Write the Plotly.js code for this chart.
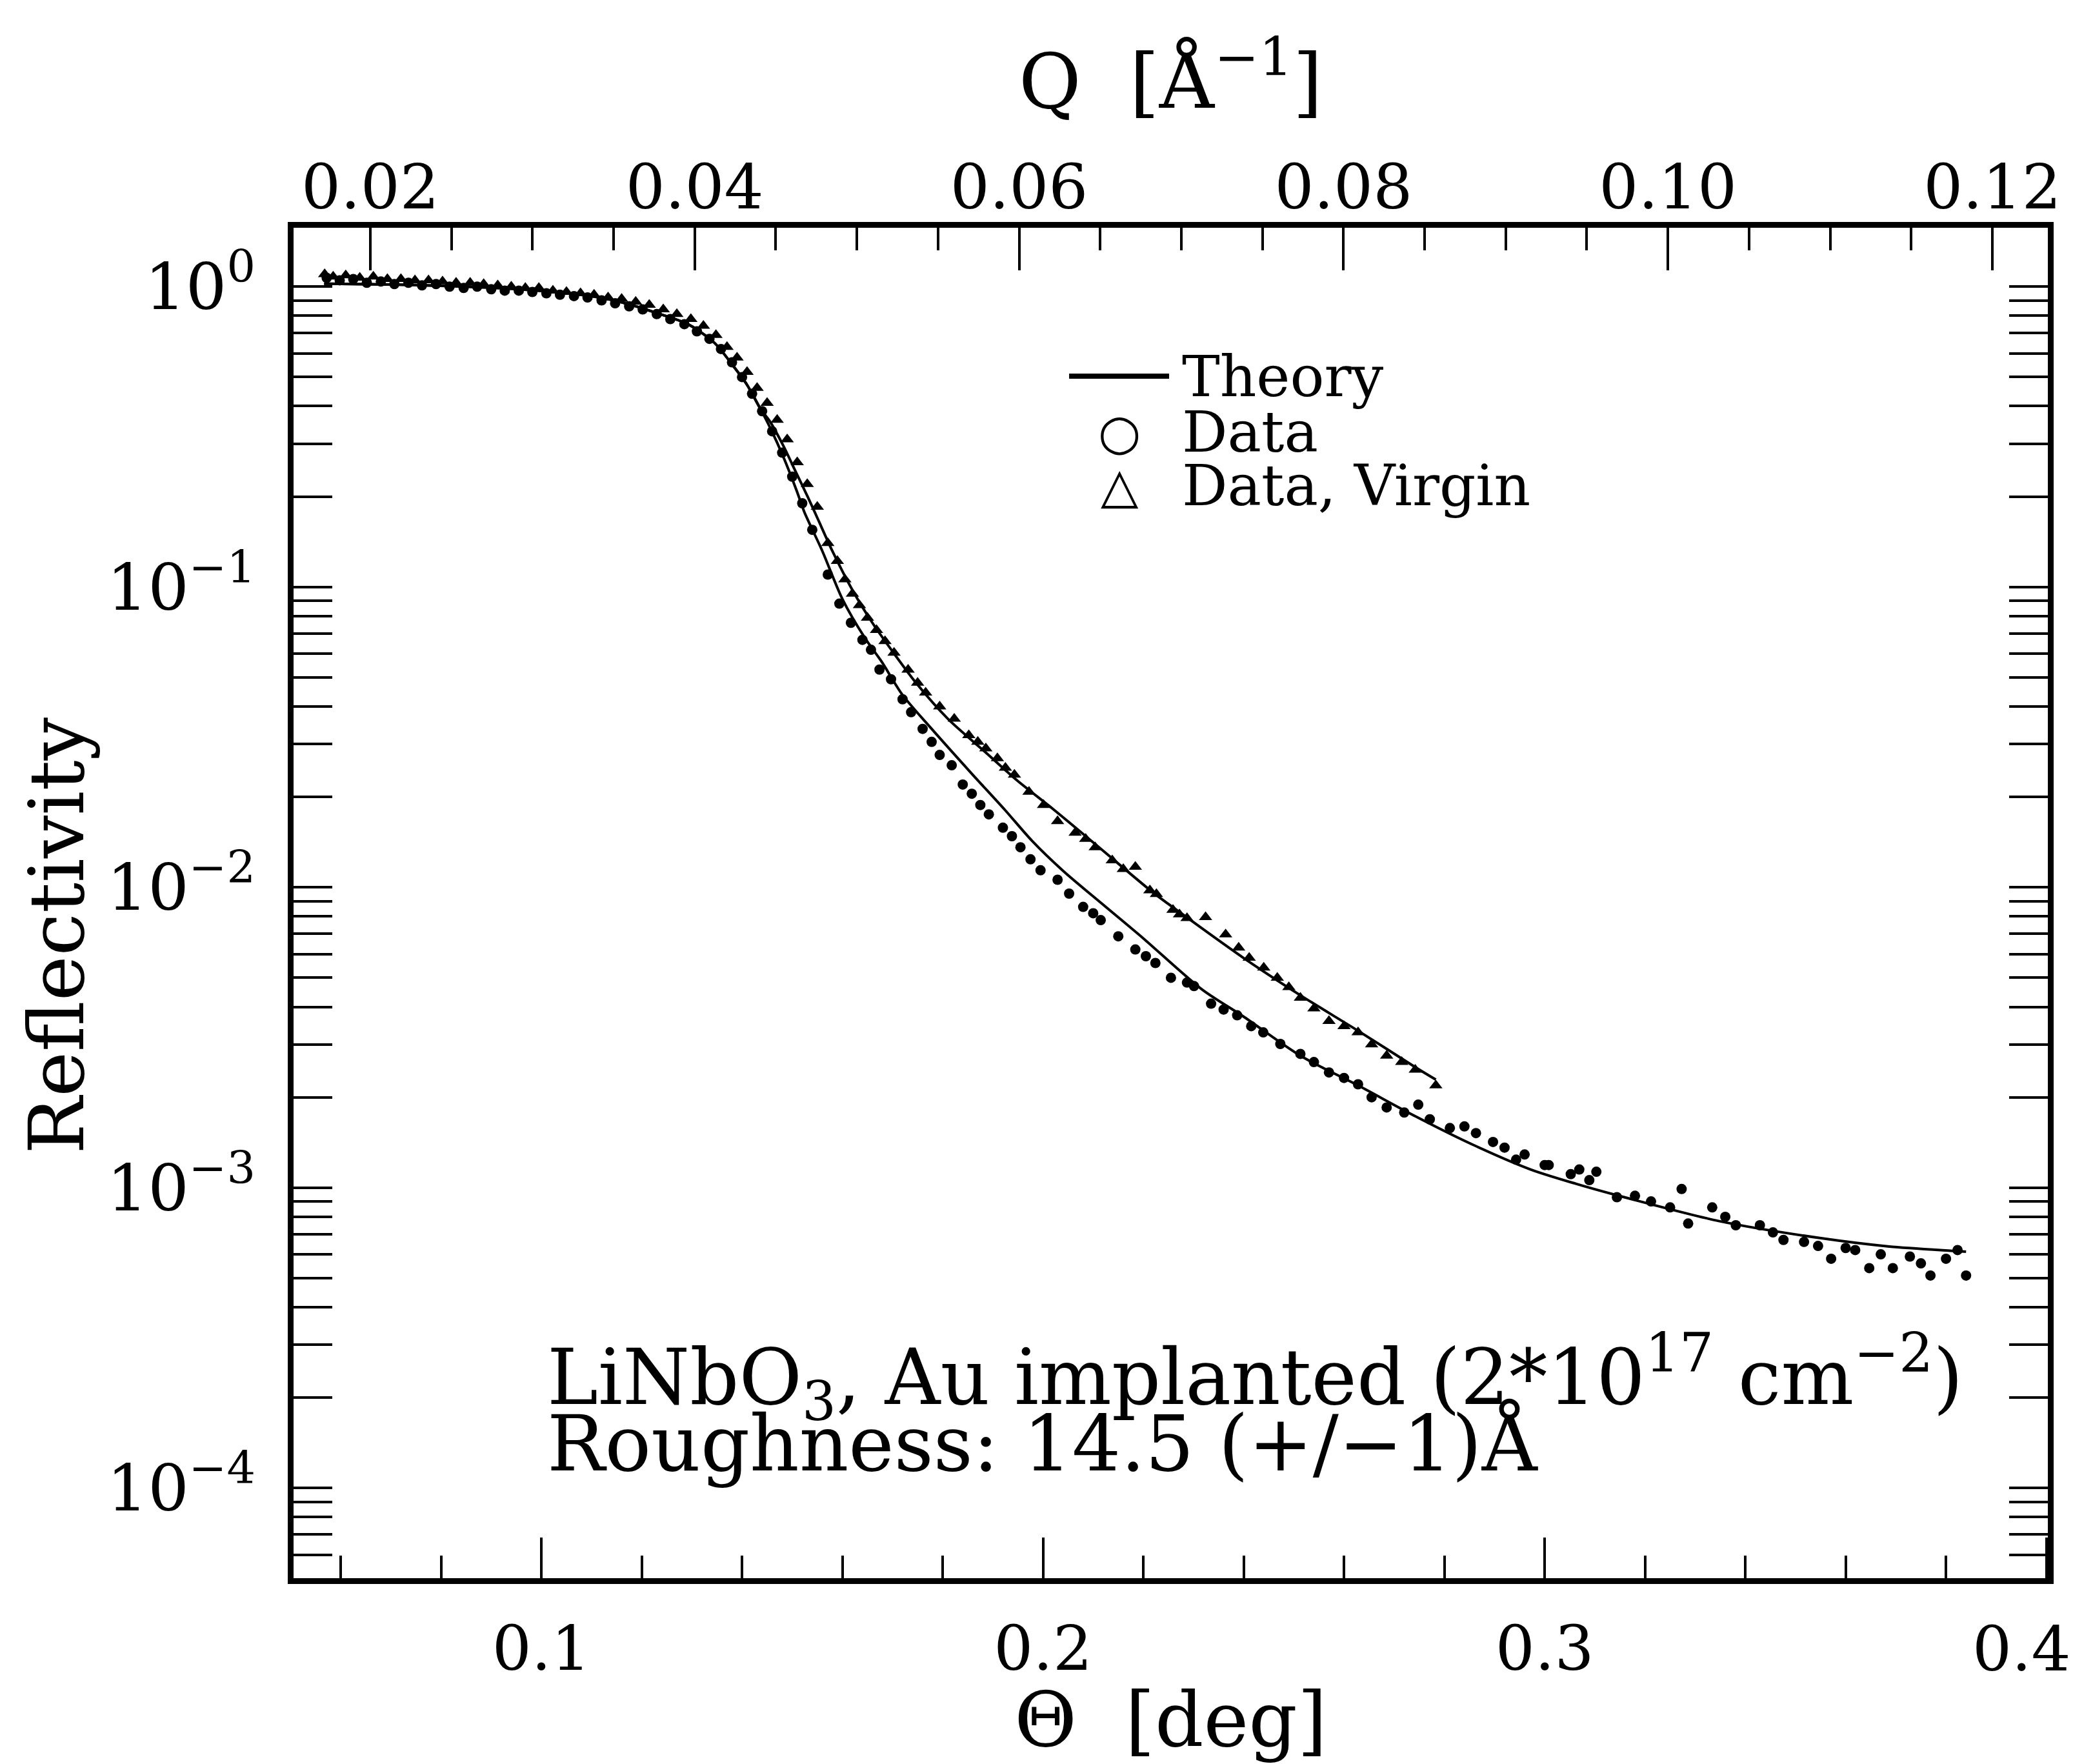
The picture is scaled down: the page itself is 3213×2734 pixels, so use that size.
<!DOCTYPE html>
<html>
<head>
<meta charset="utf-8">
<script src="https://cdn.plot.ly/plotly-3.0.1.min.js"></script>
<style>html,body{margin:0;padding:0;background:#fff;}#chart{width:3213px;height:2734px;}</style>
</head>
<body>
<div id="chart"></div>
<script>
// ---------- data ----------
// Theory curve for the implanted sample
const thetaTheoryImpl = [0.0567,0.065,0.075,0.085,0.095,0.105,0.110,0.116,0.1227,0.1292,0.1345,0.1384,0.1410,0.1437,0.1456,0.1482,0.1509,0.1524,0.1560,0.1600,0.1645,0.1678,0.1720,0.1776,0.1857,0.1924,0.1978,0.2040,0.2120,0.2200,0.2317,0.2399,0.2513,0.2628,0.2742,0.2857,0.2972,0.3063,0.3144,0.3348,0.3551,0.3687,0.3823,0.3840];
const rTheoryImpl = [1.023,1.019,1.012,1.000,0.982,0.951,0.929,0.887,0.820,0.750,0.650,0.540,0.471,0.391,0.339,0.272,0.209,0.178,0.1318,0.0912,0.0676,0.0565,0.0437,0.0340,0.0240,0.01811,0.01429,0.01135,0.00875,0.00676,0.00457,0.00372,0.00275,0.00219,0.00173,0.00139,0.00115,0.00103,0.000944,0.000774,0.000679,0.000637,0.000615,0.000612];

// Theory curve for the virgin sample
const thetaTheoryVirgin = [0.0567,0.065,0.075,0.085,0.095,0.105,0.110,0.116,0.1227,0.1292,0.1345,0.1384,0.1410,0.1437,0.1456,0.1482,0.1509,0.1531,0.1550,0.1580,0.1620,0.1660,0.1700,0.1747,0.1811,0.1885,0.1949,0.2022,0.2104,0.2219,0.2270,0.2399,0.2513,0.2628,0.2742,0.2783];
const rTheoryVirgin = [1.023,1.019,1.012,1.000,0.982,0.951,0.929,0.887,0.820,0.750,0.650,0.540,0.471,0.391,0.355,0.296,0.238,0.1995,0.170,0.1318,0.0977,0.0759,0.0610,0.0479,0.0363,0.0282,0.02265,0.01811,0.01393,0.00962,0.00832,0.00583,0.00437,0.00333,0.00252,0.00229];

// Measured data, implanted sample
const thetaData = [0.0572,0.0598,0.0625,0.0652,0.0680,0.0707,0.0735,0.0762,0.0790,0.0817,0.0845,0.0872,0.0900,0.0927,0.0955,0.0982,0.1010,0.1037,0.1065,0.1092,0.1120,0.1147,0.1175,0.1202,0.1230,0.1257,0.1285,0.1310,0.1335,0.1358,0.1380,0.1400,0.1420,0.1440,0.1460,0.1480,0.1500,0.1520,0.1540,0.1571,0.1594,0.1617,0.1640,0.1657,0.1674,0.1697,0.1720,0.1737,0.1760,0.1778,0.1794,0.1818,0.1840,0.1858,0.1875,0.1892,0.1920,0.1938,0.1955,0.1975,0.1995,0.2029,0.2052,0.2080,0.2100,0.2115,0.2150,0.2184,0.2205,0.2224,0.2255,0.2287,0.2301,0.2335,0.2360,0.2387,0.2415,0.2439,0.2473,0.2513,0.2540,0.2570,0.2600,0.2628,0.2655,0.2685,0.2720,0.2748,0.2771,0.2811,0.2840,0.2863,0.2897,0.2920,0.2943,0.2960,0.3000,0.3008,0.3052,0.3069,0.3089,0.3103,0.3144,0.3180,0.3212,0.3250,0.3273,0.3286,0.3334,0.3360,0.3381,0.3429,0.3455,0.3476,0.3517,0.3545,0.3571,0.3600,0.3619,0.3647,0.3670,0.3694,0.3728,0.3750,0.3769,0.3800,0.3823,0.3840];
const rData = [1.07,1.05,1.06,1.03,1.04,1.02,1.03,1.01,1.02,1.00,0.99,1.00,0.98,0.97,0.97,0.96,0.95,0.94,0.93,0.92,0.90,0.88,0.86,0.84,0.81,0.78,0.75,0.71,0.67,0.62,0.56,0.50,0.44,0.385,0.330,0.280,0.233,0.190,0.155,0.110,0.0880,0.0760,0.0667,0.0618,0.0531,0.0493,0.0423,0.0383,0.0337,0.0305,0.0276,0.0255,0.0220,0.0205,0.0188,0.0175,0.0158,0.0148,0.0136,0.0124,0.0114,0.0106,0.00953,0.00861,0.00820,0.00778,0.00687,0.00621,0.00590,0.00560,0.00500,0.00482,0.00469,0.00410,0.00392,0.00375,0.00345,0.00329,0.00301,0.00279,0.00262,0.00242,0.00232,0.00221,0.00200,0.00185,0.00178,0.00189,0.00169,0.00158,0.00160,0.00152,0.00142,0.00136,0.00124,0.00129,0.00119,0.00119,0.00111,0.00115,0.00106,0.00113,0.00093,0.00094,0.00090,0.00086,0.00099,0.00076,0.00086,0.00080,0.00075,0.00075,0.00071,0.00067,0.00066,0.00064,0.00058,0.00063,0.00062,0.00054,0.00060,0.00054,0.00059,0.00056,0.00051,0.00058,0.00062,0.00051];

// Measured data, virgin sample
const thetaVirgin = [0.0568,0.0585,0.0610,0.0638,0.0665,0.0693,0.0720,0.0748,0.0775,0.0803,0.0830,0.0858,0.0885,0.0913,0.0940,0.0968,0.0995,0.1023,0.1050,0.1078,0.1105,0.1133,0.1160,0.1188,0.1215,0.1243,0.1270,0.1298,0.1323,0.1348,0.1370,0.1390,0.1410,0.1430,0.1450,0.1470,0.1490,0.1510,0.1530,0.1550,0.1571,0.1590,0.1605,0.1620,0.1634,0.1650,0.1668,0.1685,0.1703,0.1731,0.1750,0.1766,0.1794,0.1823,0.1852,0.1870,0.1886,0.1909,0.1925,0.1943,0.1972,0.2001,0.2029,0.2064,0.2085,0.2104,0.2138,0.2160,0.2184,0.2213,0.2226,0.2259,0.2272,0.2287,0.2324,0.2364,0.2390,0.2411,0.2440,0.2467,0.2490,0.2513,0.2540,0.2570,0.2600,0.2628,0.2655,0.2685,0.2715,0.2742,0.2783];
const rVirgin = [1.10,1.08,1.09,1.07,1.08,1.06,1.06,1.05,1.05,1.04,1.03,1.03,1.02,1.01,1.00,0.99,0.99,0.97,0.96,0.95,0.94,0.92,0.91,0.89,0.87,0.84,0.81,0.78,0.74,0.69,0.63,0.58,0.52,0.46,0.41,0.36,0.31,0.26,0.22,0.185,0.140,0.122,0.106,0.095,0.0870,0.0790,0.0719,0.0660,0.0604,0.0530,0.0480,0.0445,0.0400,0.0364,0.0321,0.0305,0.0290,0.0269,0.0250,0.0237,0.0208,0.0188,0.0166,0.0152,0.0145,0.0136,0.0123,0.0115,0.0117,0.00977,0.00950,0.00841,0.00813,0.00790,0.00796,0.00697,0.00630,0.00583,0.00540,0.00500,0.00465,0.00429,0.00395,0.00359,0.00345,0.00329,0.00300,0.00275,0.00262,0.00247,0.00219];

// Axis tick labels (the last θ label sits flush with the right edge, drawn as an annotation)
const thetaTicks = [0.1, 0.2, 0.3, 0.4];
const thetaTickText = ['0.1', '0.2', '0.3', ''];
const thetaEdgeLabel = '0.4';
const qTicks = [0.02, 0.04, 0.06, 0.08, 0.10, 0.12];
const qTickText = ['0.02', '0.04', '0.06', '0.08', '0.10', '0.12'];
const rTicks = [1, 0.1, 0.01, 0.001, 0.0001];
const rTickText = ['10<sup>0</sup>', '10<sup>−1</sup>', '10<sup>−2</sup>', '10<sup>−3</sup>', '10<sup>−4</sup>'];

// ---------- chart ----------
const FONT = 'DejaVu Serif';
const BLACK = '#000000';

const rMinorTicks = [];
[1e-5, 1e-4, 1e-3, 1e-2, 1e-1, 1].forEach(d => { for (let k = 2; k <= 9; k++) rMinorTicks.push(d * k); });

const traces = [
  { x: thetaTheoryImpl, y: rTheoryImpl, mode: 'lines', name: 'Theory', line: { color: BLACK, width: 4, shape: 'spline', smoothing: 0.8 }, hoverinfo: 'skip' },
  { x: thetaTheoryVirgin, y: rTheoryVirgin, mode: 'lines', name: 'Theory', line: { color: BLACK, width: 4, shape: 'spline', smoothing: 0.8 }, hoverinfo: 'skip' },
  { x: thetaData, y: rData, mode: 'markers', name: 'Data', marker: { symbol: 'circle', size: 16, color: BLACK } },
  { x: thetaVirgin, y: rVirgin, mode: 'markers', name: 'Data, Virgin', marker: { symbol: 'triangle-up', size: 18, color: BLACK } },
  // empty trace that makes the top Q axis exist
  { x: [], y: [], xaxis: 'x2', yaxis: 'y', mode: 'markers', showlegend: false, hoverinfo: 'skip' }
];

const tickFont = { family: FONT, size: 96, color: BLACK };

const layout = {
  width: 3213, height: 2734,
  paper_bgcolor: '#ffffff', plot_bgcolor: '#ffffff',
  margin: { l: 455, r: 39, t: 353, b: 288, pad: 0 },
  showlegend: false,
  font: { family: FONT, color: BLACK },
  xaxis: {
    range: [0.0506, 0.4003], showgrid: false, zeroline: false,
    showline: true, linewidth: 9, linecolor: BLACK, mirror: true,
    tickmode: 'array', tickvals: thetaTicks, ticktext: thetaTickText,
    ticks: 'inside', ticklen: 63, tickwidth: 4, tickcolor: BLACK,
    minor: { dtick: 0.02, tick0: 0, ticks: 'inside', ticklen: 35, tickwidth: 4, tickcolor: BLACK, showgrid: false },
    tickfont: tickFont, ticklabelstandoff: 18,
    title: { text: 'Θ  [deg]', font: { family: FONT, size: 118, color: BLACK }, standoff: 44 },
    automargin: false
  },
  xaxis2: {
    overlaying: 'x', side: 'top', anchor: 'y',
    range: [0.01527, 0.12342], showgrid: false, zeroline: false, showline: false,
    tickmode: 'array', tickvals: qTicks, ticktext: qTickText,
    ticks: 'inside', ticklen: 66, tickwidth: 4, tickcolor: BLACK,
    minor: { dtick: 0.005, tick0: 0, ticks: 'inside', ticklen: 35, tickwidth: 4, tickcolor: BLACK, showgrid: false },
    tickfont: tickFont, ticklabelstandoff: 10, ticklabeloverflow: 'allow',
    title: { text: 'Q  [Å<sup>−1</sup>]', font: { family: FONT, size: 118, color: BLACK }, standoff: 26 },
    automargin: false
  },
  yaxis: {
    type: 'log', range: [-4.30, 0.196], showgrid: false, zeroline: false,
    showline: true, linewidth: 9, linecolor: BLACK, mirror: 'allticks',
    tickmode: 'array', tickvals: rTicks, ticktext: rTickText,
    ticks: 'inside', ticklen: 60, tickwidth: 4, tickcolor: BLACK,
    minor: { tickmode: 'array', tickvals: rMinorTicks, ticks: 'inside', ticklen: 30, tickwidth: 4, tickcolor: BLACK, showgrid: false },
    tickfont: { family: FONT, size: 100, color: BLACK }, ticklabelstandoff: 30,
    automargin: false
  },
  shapes: [
    { type: 'line', xref: 'paper', yref: 'paper', x0: 0.4421, x1: 0.4991, y0: 0.8901, y1: 0.8901, line: { color: BLACK, width: 8 } }
  ],
  annotations: [
    { xref: 'paper', yref: 'paper', x: 1.0140, y: -0.0250, xanchor: 'right', yanchor: 'top', showarrow: false, text: thetaEdgeLabel, font: tickFont },
    { xref: 'paper', yref: 'paper', x: -0.135, y: 0.476, xanchor: 'center', yanchor: 'middle', textangle: -90, showarrow: false, text: 'Reflectivity', font: { family: FONT, size: 118, color: BLACK } },
    { xref: 'paper', yref: 'paper', x: 0.5057, y: 0.8901, xanchor: 'left', yanchor: 'middle', showarrow: false, text: 'Theory', font: { family: FONT, size: 88, color: BLACK } },
    { xref: 'paper', yref: 'paper', x: 0.4708, y: 0.8486, xanchor: 'center', yanchor: 'middle', showarrow: false, text: '○', font: { family: 'DejaVu Sans', size: 76, color: BLACK } },
    { xref: 'paper', yref: 'paper', x: 0.5057, y: 0.8486, xanchor: 'left', yanchor: 'middle', showarrow: false, text: 'Data', font: { family: FONT, size: 88, color: BLACK } },
    { xref: 'paper', yref: 'paper', x: 0.4708, y: 0.8089, xanchor: 'center', yanchor: 'middle', showarrow: false, text: '△', font: { family: 'DejaVu Sans', size: 76, color: BLACK } },
    { xref: 'paper', yref: 'paper', x: 0.5057, y: 0.8089, xanchor: 'left', yanchor: 'middle', showarrow: false, text: 'Data, Virgin', font: { family: FONT, size: 88, color: BLACK } },
    { xref: 'paper', yref: 'paper', x: 0.1438, y: 0.1485, xanchor: 'left', yanchor: 'middle', showarrow: false, text: 'LiNbO<sub>3</sub>, Au implanted (2*10<sup>17</sup> cm<sup>−2</sup>)', font: { family: FONT, size: 119, color: BLACK } },
    { xref: 'paper', yref: 'paper', x: 0.1438, y: 0.1000, xanchor: 'left', yanchor: 'middle', showarrow: false, text: 'Roughness: 14.5 (+/−1)Å', font: { family: FONT, size: 119, color: BLACK } }
  ]
};

Plotly.newPlot('chart', traces, layout, { displayModeBar: false, staticPlot: true });
</script>
</body>
</html>
